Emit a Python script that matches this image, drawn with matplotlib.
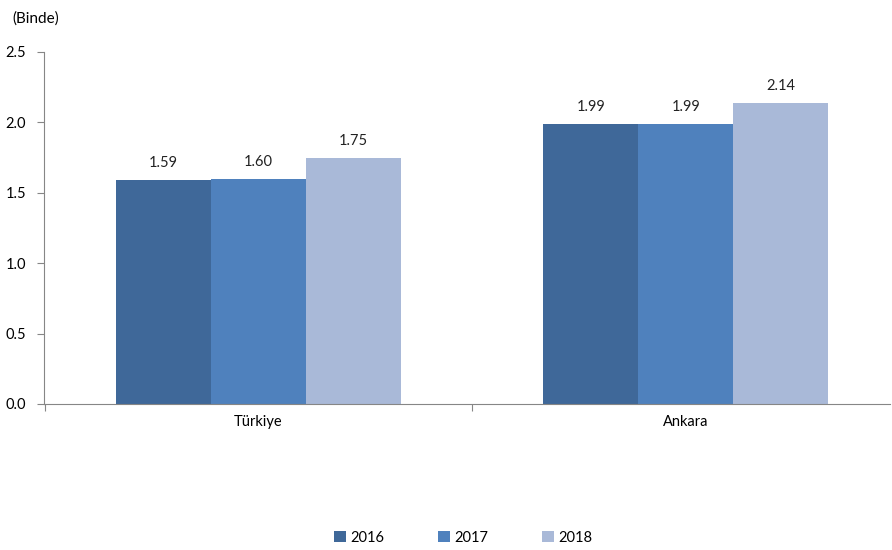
import numpy as np
import matplotlib.pyplot as plt

plt.rcParams['font.family'] = ['Lato', 'DejaVu Sans']

categories = ['Türkiye', 'Ankara']
years = ['2016', '2017', '2018']
values = {
    '2016': [1.59, 1.99],
    '2017': [1.60, 1.99],
    '2018': [1.75, 2.14],
}
labels = {
    '2016': ['1.59', '1.99'],
    '2017': ['1.60', '1.99'],
    '2018': ['1.75', '2.14'],
}
colors = ['#3F6899', '#4F81BD', '#A9B9D8']

fig = plt.figure(figsize=(8.92, 5.5), dpi=100)
ax = fig.add_axes([0.0493, 0.2655, 0.949, 0.64])

x = np.arange(len(categories))
w = 0.2225
for i, yr in enumerate(years):
    pos = x + (i - 1) * w
    ax.bar(pos, values[yr], width=w, color=colors[i], label=yr, linewidth=0)
    for p, v, t in zip(pos, values[yr], labels[yr]):
        ax.text(p, v + 0.07, t, ha='center', va='bottom', fontsize=10.5, color='#222222')

ax.set_xlim(-0.502, 1.479)
ax.set_ylim(0, 2.5)
ax.set_yticks([0, 0.5, 1.0, 1.5, 2.0, 2.5])
ax.set_yticklabels(['0.0', '0.5', '1.0', '1.5', '2.0', '2.5'], fontsize=10.5)
ax.set_xticks([-0.5, 0.5])
ax.set_xticklabels([])
ax.set_xticks(x, minor=True)
ax.set_xticklabels(categories, minor=True, fontsize=10.5)
ax.tick_params(axis='x', which='minor', length=0, pad=8)
ax.tick_params(axis='x', which='major', length=5, color='#868686')
ax.tick_params(axis='y', length=5, color='#868686', pad=8)

for s in ['top', 'right']:
    ax.spines[s].set_visible(False)
for s in ['left', 'bottom']:
    ax.spines[s].set_color('#868686')

fig.text(0.014, 0.967, '(Binde)', fontsize=11, ha='left', va='center')

fig.legend(loc='center', bbox_to_anchor=(0.519, 0.022), ncol=3, frameon=False,
           fontsize=10.5, handlelength=0.8, handleheight=0.8, handletextpad=0.3,
           columnspacing=3.7)

fig.savefig('out.png', dpi=100)
